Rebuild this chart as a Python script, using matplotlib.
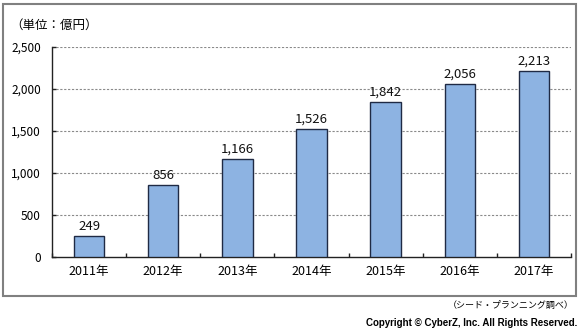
import matplotlib
matplotlib.use('Agg')
import matplotlib.pyplot as plt
from matplotlib.patches import Rectangle
import numpy as np

plt.rcParams['font.family'] = ['Noto Sans CJK JP', 'DejaVu Sans']

years = ['2011年', '2012年', '2013年', '2014年', '2015年', '2016年', '2017年']
values = [249, 856, 1166, 1526, 1842, 2056, 2213]
yticks = [0, 500, 1000, 1500, 2000, 2500]

W, H = 584, 330
fig = plt.figure(figsize=(W / 100, H / 100), dpi=100)
fig.patch.set_facecolor('white')

# outer frame
fig.patches.append(Rectangle((3 / W, 1 - 296 / H), 573 / W, 292 / H,
                             transform=fig.transFigure, fill=False,
                             edgecolor='#808080', linewidth=1.5))

ax = fig.add_axes([52 / W, 1 - 257 / H, (571 - 52) / W, (257 - 47) / H])
x = np.arange(len(years))
ax.bar(x, values, width=0.41, color='#8DB3E2', edgecolor='#1F2A44', linewidth=1.0, zorder=3)
for xi, v in zip(x, values):
    ax.text(xi, v + 40, f'{v:,}', ha='center', va='bottom', fontsize=9.5, color='#111111')

ax.set_xlim(-0.5, len(years) - 0.5)
ax.set_ylim(0, 2500)
ax.set_yticks(yticks)
ax.set_yticklabels([f'{t:,}' for t in yticks], fontsize=8.5)
ax.set_xticks(x)
ax.set_xticklabels(years, fontsize=9)
ax.set_xticks(np.arange(-0.5, len(years)), minor=True)
ax.tick_params(axis='x', which='major', length=0, pad=6)
ax.tick_params(axis='x', which='minor', direction='in', length=3, width=1, color='#222222')
ax.tick_params(axis='y', direction='in', length=3, width=1, color='#222222', pad=8)

for t in yticks[1:]:
    ax.axhline(t, color='#8a8a8a', linewidth=0.8, linestyle=(0, (2, 1.5)), zorder=1)

for s in ['top', 'right']:
    ax.spines[s].set_visible(False)
ax.spines['left'].set_color('#222222')
ax.spines['bottom'].set_color('#222222')
ax.spines['left'].set_linewidth(1.0)
ax.spines['bottom'].set_linewidth(1.0)

fig.text(10 / W, 1 - 25 / H, '（単位：億円）', fontsize=9, va='center', ha='left')
fig.text(574 / W, 1 - 305 / H, '（シード・プランニング調べ）', fontsize=6.5, va='center', ha='right')
fig.text(577 / W, 1 - 323 / H, 'Copyright © CyberZ, Inc. All Rights Reserved.', fontsize=7.0,
         family='Liberation Sans', fontweight='bold', va='center', ha='right')

fig.savefig('out.png', dpi=100)
